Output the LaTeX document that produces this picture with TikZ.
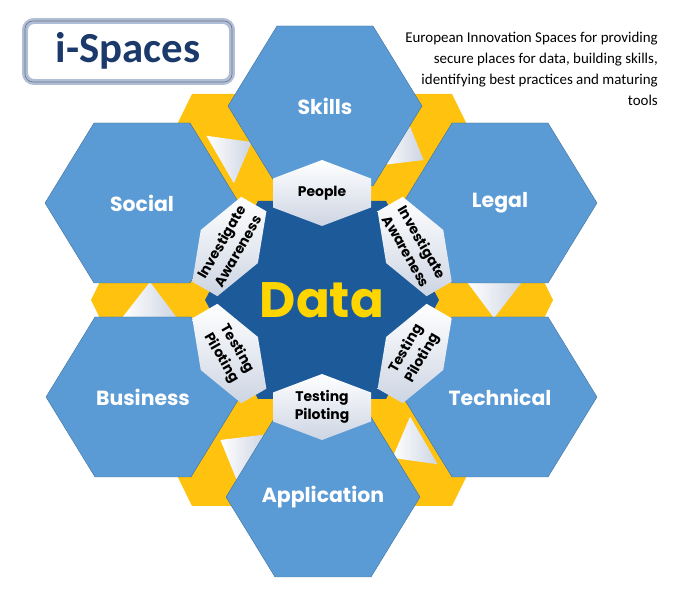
\documentclass[tikz,border=0pt]{standalone}
\usepackage{fontspec}
\setmainfont{Poppins}
\newfontfamily\calfont{Carlito}
\usetikzlibrary{shapes}
\definecolor{hexblue}{HTML}{5B9BD5}
\definecolor{hexline}{HTML}{41719C}
\definecolor{datablue}{HTML}{1C5A9A}
\definecolor{bandyellow}{HTML}{FFC20E}
\definecolor{datayellow}{HTML}{FFD500}
\definecolor{titlenavy}{HTML}{1B3A6B}
\definecolor{boxedge}{HTML}{AFBED6}
\definecolor{hexpale}{HTML}{CDD5E3}

\begin{document}
\begin{tikzpicture}[x=1bp,y=1bp,
  outer/.style={font=\bfseries\fontsize{20.5}{24}\selectfont,text=white},
  inner/.style={font=\bfseries\fontsize{14}{18.5}\selectfont,align=center,text=black,inner sep=0}]
\useasboundingbox (0,0) rectangle (693,600);
% yellow ribbons behind the honeycomb
\fill[bandyellow] (553,300)--(452,506)--(192,506)--(91,300)--(192,94)--(452,94)--cycle;
\foreach \a in {0,60,...,300}
  \shade[shift={(322,300)},rotate=\a,left color=white,right color=hexpale] (145,18)--(200,18)--(172,-18)--cycle;
% outer hexagons
\foreach \x/\y/\t in {325/494/Skills,500/397/Legal,500/203/Technical,323/103/Application,143/203/Business,142/397/Social}{
  \draw[hexline,fill=hexblue,shift={(\x,\y)}] (97,0)--(48,80)--(-48,80)--(-97,0)--(-48,-80)--(48,-80)--cycle;
  \node[outer] (\t) at (\x,\y) {\t};
}
% centre
\fill[datablue,shift={(322,300)}] (117,0)--(64,99)--(-64,99)--(-117,0)--(-64,-99)--(64,-99)--cycle;
\node[font=\bfseries\fontsize{50}{60}\selectfont,text=datayellow] (data) at (322,300) {Data};
% small hexagons round the centre
\begin{scope}[shift={(322,300)}]
\foreach \a/\r/\t [count=\i] in {90/0/People,30/-60/{Investigate\\Awareness},-30/60/{Testing\\Piloting},-90/0/{Testing\\Piloting},210/-60/{Testing\\Piloting},150/60/{Investigate\\Awareness}}{
  \shade[rotate=\a-90,top color=white,bottom color=hexpale] (0,140)--(49,121.5)--(49,92.5)--(0,74)--(-49,92.5)--(-49,121.5)--cycle;
  \node[inner,rotate=\r] (side\i) at (\a:107) {\t};
}
\end{scope}
% title box
\draw[boxedge,line width=6,rounded corners=9,fill=white] (25,579) rectangle (232,518);
\draw[boxedge!60!black,line width=0.6,rounded corners=8] (25,579) rectangle (232,518);
\node[font=\calfont\bfseries\fontsize{43}{48}\selectfont,text=titlenavy] (title) at (128,549) {i-Spaces};
\node[font=\calfont\fontsize{15}{21}\selectfont,align=right,anchor=north east,inner sep=0] (desc) at (658,568)
  {European Innovation Spaces for providing\\secure places for data, building skills,\\identifying best practices and maturing\\tools};
\end{tikzpicture}
\end{document}
